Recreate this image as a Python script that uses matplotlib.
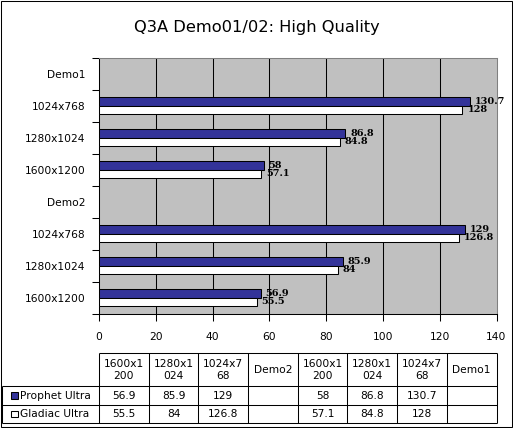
import numpy as np
import matplotlib
matplotlib.use('Agg')
import matplotlib.pyplot as plt
from matplotlib.patches import Rectangle

#%% Data (bottom to top, same order as the data table)
categories = ['1600x1200', '1280x1024', '1024x768', 'Demo2',
              '1600x1200', '1280x1024', '1024x768', 'Demo1']
table_heads = ['1600x1\n200', '1280x1\n024', '1024x7\n68', 'Demo2',
               '1600x1\n200', '1280x1\n024', '1024x7\n68', 'Demo1']
prophet = [56.9, 85.9, 129, np.nan, 58, 86.8, 130.7, np.nan]
gladiac = [55.5, 84, 126.8, np.nan, 57.1, 84.8, 128, np.nan]
series_names = ['Prophet Ultra', 'Gladiac Ultra']
series_colors = ['#333399', '#FFFFFF']
title = 'Q3A Demo01/02: High Quality'
xticks = [0, 20, 40, 60, 80, 100, 120, 140]

#%% Layout in pixels
W, H = 513, 428
px0, px1 = 99, 496.5      # plot area left / right
py0, py1 = 57.5, 313.5    # plot area top / bottom
lw = 0.75                 # ~1 px

fig = plt.figure(figsize=(W/100, H/100), dpi=100)
fig.patch.set_facecolor('white')

ax = fig.add_axes([px0/W, 1-py1/H, (px1-px0)/W, (py1-py0)/H])
ax.set_facecolor('#C0C0C0')

y = np.arange(len(categories))
h = 0.27
ax.barh(y + h/2, prophet, height=h, color=series_colors[0], edgecolor='black', linewidth=lw, zorder=3)
ax.barh(y - h/2, gladiac, height=h, color=series_colors[1], edgecolor='black', linewidth=lw, zorder=3)

# value labels, ~5 px right of the bar end
gap = 5 * 140 / (px1 - px0)
for i in range(len(categories)):
    if not np.isnan(prophet[i]):
        ax.text(prophet[i] + gap, y[i] + h/2, '%g' % prophet[i], va='center', ha='left',
                family='DejaVu Serif', weight='bold', fontsize=7, zorder=4)
    if not np.isnan(gladiac[i]):
        ax.text(gladiac[i] + gap, y[i] - h/2, '%g' % gladiac[i], va='center', ha='left',
                family='DejaVu Serif', weight='bold', fontsize=7, zorder=4)

ax.set_xlim(0, 140)
ax.set_ylim(-0.5, len(categories) - 0.5)
ax.set_xticks(xticks)
ax.set_xticklabels([str(t) for t in xticks], fontsize=7.7)
ax.set_yticks(y)
ax.set_yticklabels(categories, fontsize=7.7)
ax.set_yticks(np.arange(-0.5, len(categories)), minor=True)
ax.tick_params(axis='y', which='major', length=0, pad=10)
ax.tick_params(axis='y', which='minor', length=5, width=lw, direction='out')
ax.tick_params(axis='x', which='major', length=5, width=lw, direction='out', pad=8)
for xv in xticks[1:-1]:
    ax.axvline(xv, color='black', linewidth=lw, zorder=1)

for s in ['left', 'bottom']:
    ax.spines[s].set_color('black')
    ax.spines[s].set_linewidth(lw)
for s in ['top', 'right']:
    ax.spines[s].set_color('#808080')
    ax.spines[s].set_linewidth(lw)

fig.text(0.5, 1 - 27.5/H, title, ha='center', va='center', fontsize=11.7)

#%% Data table and outer frame drawn on a pixel overlay
ov = fig.add_axes([0, 0, 1, 1], zorder=5)
ov.set_xlim(0, W)
ov.set_ylim(H, 0)
ov.axis('off')
ov.patch.set_alpha(0)

ncol = len(categories)
cw = (px1 - px0) / ncol
cols = [px0 + i*cw for i in range(ncol + 1)]
lab_x = 2
t_top, t_head, t_r1, t_r2 = 353, 386, 405, 422.5

def hline(x0, x1, yy):
    ov.plot([x0, x1], [yy, yy], color='black', linewidth=lw, solid_capstyle='butt')

def vline(xx, y0, y1):
    ov.plot([xx, xx], [y0, y1], color='black', linewidth=lw, solid_capstyle='butt')

hline(px0, px1, t_top)
hline(lab_x, px1, t_head)
hline(lab_x, px1, t_r1)
hline(lab_x, px1, t_r2)
for xx in cols:
    vline(xx, t_top, t_r2)
vline(lab_x, t_head, t_r2)

for i, head in enumerate(table_heads):
    ov.text((cols[i] + cols[i+1]) / 2, (t_top + t_head) / 2 + 0.5, head, ha='center', va='center',
            fontsize=7.7, linespacing=1.25)

rows = [prophet, gladiac]
row_y = [(t_head + t_r1) / 2, (t_r1 + t_r2) / 2]
for r, vals in enumerate(rows):
    ov.add_patch(Rectangle((11, row_y[r] - 3.2), 6.5, 6.5, facecolor=series_colors[r],
                           edgecolor='black', linewidth=lw))
    ov.text(19.5, row_y[r] + 0.3, series_names[r], ha='left', va='center', fontsize=7.7)
    for i, v in enumerate(vals):
        if not np.isnan(v):
            ov.text((cols[i] + cols[i+1]) / 2, row_y[r] + 0.3, '%g' % v, ha='center', va='center',
                    fontsize=7.7)

ov.add_patch(Rectangle((0.5, 0.5), W - 2, H - 2, facecolor='none', edgecolor='black', linewidth=lw))

fig.savefig('out.png', dpi=100)
